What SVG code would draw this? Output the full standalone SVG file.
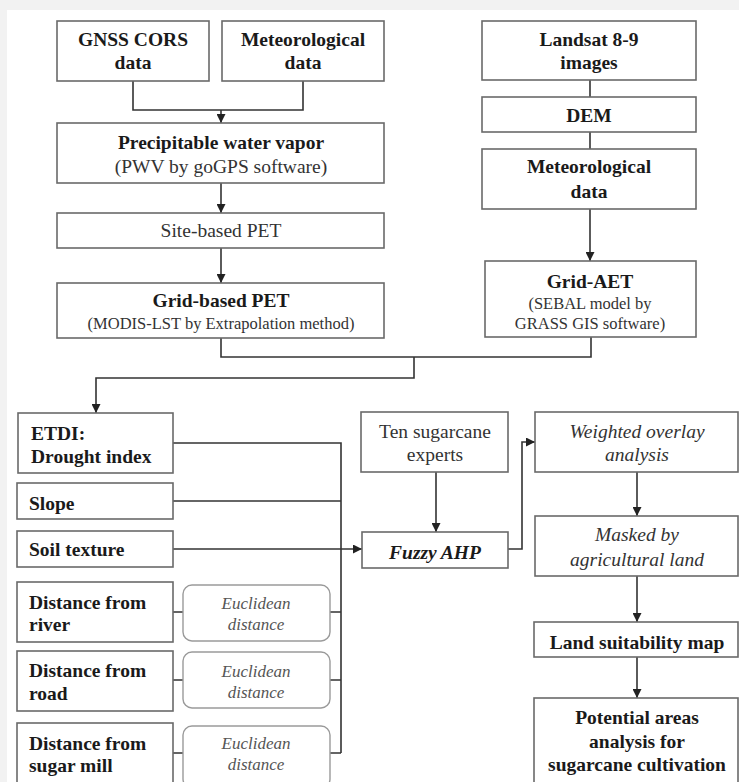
<svg xmlns="http://www.w3.org/2000/svg" width="739" height="782" viewBox="0 0 739 782">
<defs>
<marker id="arr" viewBox="0 0 10 10" refX="10" refY="5" markerWidth="9" markerHeight="9" markerUnits="userSpaceOnUse" orient="auto">
<path d="M0,0 L10,5 L0,10 Z" fill="#222"/>
</marker>
<style>
.box{fill:#fff;stroke:#6a6a6a;stroke-width:1.6}
.rbox{fill:#fff;stroke:#9a9a9a;stroke-width:1.4}
.b{font-family:"Liberation Serif","Times New Roman",serif;font-weight:bold;font-size:19.5px;fill:#1a1a1a}
.r{font-family:"Liberation Serif","Times New Roman",serif;font-size:19.5px;fill:#333}
.s{font-family:"Liberation Serif","Times New Roman",serif;font-size:16.5px;fill:#333}
.i{font-family:"Liberation Serif","Times New Roman",serif;font-style:italic;font-size:19.5px;fill:#333}
.ei{font-family:"Liberation Serif","Times New Roman",serif;font-style:italic;font-size:17px;fill:#555}
.bi{font-family:"Liberation Serif","Times New Roman",serif;font-style:italic;font-weight:bold;font-size:19.5px;fill:#1a1a1a}
.c{text-anchor:middle}
.ln{fill:none;stroke:#333;stroke-width:1.6}
.ar{fill:none;stroke:#333;stroke-width:1.6;marker-end:url(#arr)}
</style>
</defs>
<rect x="0" y="0" width="739" height="782" fill="#f2f2f2"/>
<rect x="7" y="10" width="732" height="772" fill="#fff"/>

<g id="connectors">
<path class="ln" d="M133 81 V110 H303 V81"/>
<path class="ar" d="M221 110 V123"/>
<path class="ar" d="M221 183 V213"/>
<path class="ar" d="M221 248 V283"/>
<path class="ln" d="M590 80 V97"/>
<path class="ln" d="M590 132 V149"/>
<path class="ar" d="M590 209 V261"/>
<path class="ln" d="M221 338 V357 H591 V337"/>
<path class="ar" d="M414 357 V378 H96 V413"/>
<path class="ln" d="M173 443 H341 V753"/>
<path class="ln" d="M173 501 H341"/>
<path class="ln" d="M173 612 H183 M330 612 H341"/>
<path class="ln" d="M173 680 H183 M330 680 H341"/>
<path class="ln" d="M173 753 H183 M330 753 H341"/>
<path class="ar" d="M173 549 H362"/>
<path class="ar" d="M436 472 V532"/>
<path class="ar" d="M508 549 H522 V442 H535"/>
<path class="ar" d="M637 472 V516"/>
<path class="ar" d="M637 576 V622"/>
<path class="ar" d="M637 657 V698"/>
</g>

<g id="gnss"><rect class="box" x="57" y="21" width="152" height="60"/>
<text class="b c" x="133" y="46">GNSS CORS</text><text class="b c" x="133" y="69">data</text></g>
<g id="met1"><rect class="box" x="222" y="21" width="162" height="60"/>
<text class="b c" x="303" y="46">Meteorological</text><text class="b c" x="303" y="69">data</text></g>
<g id="pwv"><rect class="box" x="57" y="123" width="327" height="60"/>
<text class="b c" x="221" y="149">Precipitable water vapor</text><text class="r c" x="221" y="173">(PWV by goGPS software)</text></g>
<g id="sitepet"><rect class="box" x="57" y="213" width="327" height="35"/>
<text class="r c" x="221" y="237">Site-based PET</text></g>
<g id="gridpet"><rect class="box" x="57" y="283" width="327" height="55"/>
<text class="b c" x="221" y="306.5">Grid-based PET</text><text class="s c" x="221" y="329">(MODIS-LST by Extrapolation method)</text></g>

<g id="landsat"><rect class="box" x="482" y="21" width="214" height="59"/>
<text class="b c" x="589" y="46">Landsat 8-9</text><text class="b c" x="589" y="69">images</text></g>
<g id="dem"><rect class="box" x="482" y="97" width="214" height="35"/>
<text class="b c" x="589" y="122">DEM</text></g>
<g id="met2"><rect class="box" x="482" y="149" width="214" height="60"/>
<text class="b c" x="589" y="173">Meteorological</text><text class="b c" x="589" y="198">data</text></g>
<g id="gridaet"><rect class="box" x="485" y="261" width="211" height="76"/>
<text class="b c" x="590" y="287.5">Grid-AET</text><text class="s c" x="590" y="308.5">(SEBAL model by</text><text class="s c" x="590" y="328.5">GRASS GIS software)</text></g>

<g id="etdi"><rect class="box" x="18" y="413" width="155" height="60"/>
<text class="b" x="31" y="439.5">ETDI:</text><text class="b" x="31" y="462.5">Drought index</text></g>
<g id="slope"><rect class="box" x="17" y="483" width="156" height="36"/>
<text class="b" x="29" y="509.5">Slope</text></g>
<g id="soil"><rect class="box" x="17" y="531" width="156" height="36"/>
<text class="b" x="29" y="555.5">Soil texture</text></g>
<g id="river"><rect class="box" x="17" y="582" width="156" height="60"/>
<text class="b" x="29" y="608.5">Distance from</text><text class="b" x="29" y="630.5">river</text></g>
<g id="road"><rect class="box" x="17" y="651" width="156" height="60"/>
<text class="b" x="29" y="676.5">Distance from</text><text class="b" x="29" y="699.5">road</text></g>
<g id="mill"><rect class="box" x="17" y="723" width="156" height="70"/>
<text class="b" x="29" y="749.5">Distance from</text><text class="b" x="29" y="771.5">sugar mill</text></g>

<g id="euc1"><rect class="rbox" x="183" y="585" width="147" height="56" rx="9"/>
<text class="ei c" x="256" y="609">Euclidean</text><text class="ei c" x="256" y="630">distance</text></g>
<g id="euc2"><rect class="rbox" x="183" y="652" width="147" height="56" rx="9"/>
<text class="ei c" x="256" y="677">Euclidean</text><text class="ei c" x="256" y="698">distance</text></g>
<g id="euc3"><rect class="rbox" x="183" y="726" width="147" height="62" rx="9"/>
<text class="ei c" x="256" y="749">Euclidean</text><text class="ei c" x="256" y="770">distance</text></g>

<g id="experts"><rect class="box" x="361" y="412" width="147" height="60"/>
<text class="r c" x="435" y="438">Ten sugarcane</text><text class="r c" x="435" y="461">experts</text></g>
<g id="fuzzy"><rect class="box" x="362" y="532" width="146" height="36"/>
<text class="bi c" x="435" y="558.5">Fuzzy AHP</text></g>
<g id="weighted"><rect class="box" x="535" y="412" width="203" height="60"/>
<text class="i c" x="637" y="438">Weighted overlay</text><text class="i c" x="637" y="461">analysis</text></g>
<g id="masked"><rect class="box" x="535" y="516" width="203" height="60"/>
<text class="i c" x="637" y="541">Masked by</text><text class="i c" x="637" y="566">agricultural land</text></g>
<g id="landsuit"><rect class="box" x="534" y="622" width="204" height="35"/>
<text class="b c" x="637" y="648.5">Land suitability map</text></g>
<g id="potential"><rect class="box" x="534" y="698" width="204" height="90"/>
<text class="b c" x="637" y="724">Potential areas</text><text class="b c" x="637" y="748">analysis for</text><text class="b c" x="637" y="771">sugarcane cultivation</text></g>
</svg>
